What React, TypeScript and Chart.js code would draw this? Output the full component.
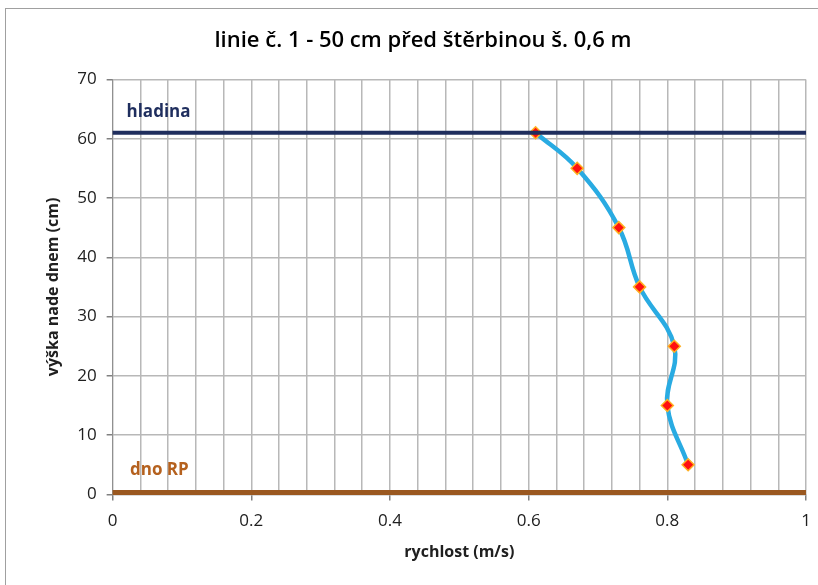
import React, { useEffect, useRef } from "react";
import { Chart, registerables } from "chart.js";
Chart.register(...registerables);

const speeds = [0.61, 0.67, 0.73, 0.76, 0.81, 0.8, 0.83];
const heights = [61, 55, 45, 35, 25, 15, 5];
const waterLevel = 61;
const bottomLevel = 0.3;
const xTickLabels = ["0", "0.2", "0.4", "0.6", "0.8", "1"];
const yTicks = [0, 10, 20, 30, 40, 50, 60, 70];
const titleText = "linie č. 1 - 50 cm před štěrbinou š. 0,6 m";
const xTitle = "rychlost (m/s)";
const yTitle = "výška nade dnem (cm)";
const labelWater = "hladina";
const labelBottom = "dno RP";

const FONT = "'Open Sans', 'Noto Sans', sans-serif";

const isMajor = (v: number) => Math.abs(v * 5 - Math.round(v * 5)) < 1e-6;

const textPlugin = {
  id: "levelText",
  afterDatasetsDraw(chart: any) {
    const { ctx, scales } = chart;
    const xs = scales.x;
    const ys = scales.y;
    ctx.save();
    ctx.font = `bold 17px ${FONT}`;
    ctx.textBaseline = "middle";
    ctx.textAlign = "left";
    ctx.fillStyle = "#1F2E5E";
    ctx.fillText(labelWater, xs.getPixelForValue(0.02), ys.getPixelForValue(64.4));
    ctx.fillStyle = "#B5611E";
    ctx.fillText(labelBottom, xs.getPixelForValue(0.025), ys.getPixelForValue(4.1));
    ctx.restore();
  },
};

export default function App() {
  const ref = useRef<HTMLCanvasElement>(null);
  useEffect(() => {
    const profile = speeds.map((s, i) => ({ x: s, y: heights[i] }));
    const chart = new Chart(ref.current!, {
      type: "scatter",
      data: {
        datasets: [
          {
            data: [
              { x: 0, y: waterLevel },
              { x: 1, y: waterLevel },
            ],
            showLine: true,
            borderColor: "#1F2E5E",
            borderWidth: 4,
            pointRadius: 0,
            clip: false as any,
          },
          {
            data: [
              { x: 0, y: bottomLevel },
              { x: 1, y: bottomLevel },
            ],
            showLine: true,
            borderColor: "#9A5820",
            borderWidth: 5,
            pointRadius: 0,
            clip: false as any,
          },
          {
            data: profile,
            showLine: true,
            borderColor: "#29ABE2",
            borderWidth: 4.5,
            tension: 0.4,
            pointStyle: "rectRot",
            pointRadius: 6,
            pointBackgroundColor: "#FF1010",
            pointBorderColor: "#FFB020",
            pointBorderWidth: 1.5,
          },
        ],
      },
      options: {
        responsive: false,
        animation: false,
        layout: { padding: { left: 40, right: 12, top: 0, bottom: 19 } },
        plugins: {
          legend: { display: false },
          tooltip: { enabled: false },
          title: {
            display: true,
            text: titleText,
            color: "#000000",
            font: { family: FONT, size: 22, weight: "600" as any },
            padding: { top: 28, bottom: 25 },
          },
        },
        scales: {
          x: {
            type: "linear",
            min: 0,
            max: 1,
            afterFit: (axis: any) => {
              axis.paddingRight = 0;
            },
            ticks: {
              stepSize: 0.04,
              autoSkip: false,
              maxRotation: 0,
              color: "#202020",
              font: { family: FONT, size: 17 },
              padding: 11,
              callback: (v: any) => {
                const n = Number(v);
                if (!isMajor(n)) return "";
                return xTickLabels[Math.round(n * 5)];
              },
            },
            grid: {
              color: "#B8B8B8",
              lineWidth: 1.5,
              tickLength: 6,
              tickColor: (c: any) => (isMajor(c.tick.value) ? "#808080" : "rgba(0,0,0,0)"),
            },
            border: { color: "#909090" },
            title: {
              display: true,
              text: xTitle,
              color: "#202020",
              font: { family: FONT, size: 16, weight: "bold" as any },
              padding: { top: 0 },
            },
          },
          y: {
            type: "linear",
            min: 0,
            max: 70,
            afterBuildTicks: (axis: any) => {
              axis.ticks = yTicks.map((v) => ({ value: v }));
            },
            ticks: {
              color: "#202020",
              font: { family: FONT, size: 17 },
              padding: 10,
            },
            grid: {
              color: "#B8B8B8",
              lineWidth: 1.5,
              tickLength: 6,
              tickColor: "#808080",
            },
            border: { color: "#909090" },
            title: {
              display: true,
              text: yTitle,
              color: "#202020",
              font: { family: FONT, size: 16, weight: "bold" as any },
              padding: { bottom: 4 },
            },
          },
        },
      },
      plugins: [textPlugin],
    });
    return () => chart.destroy();
  }, []);
  return (
    <div
      style={{
        position: "fixed",
        left: 0,
        top: 0,
        width: 818,
        height: 585,
        background: "#fff",
      }}
    >
      <div
        style={{
          position: "absolute",
          left: 5,
          top: 8,
          width: 830,
          height: 600,
          borderLeft: "1.5px solid #A0A0A0",
          borderTop: "1.5px solid #A0A0A0",
        }}
      />
      <canvas ref={ref} width={818} height={585} style={{ position: "absolute", left: 0, top: 0 }} />
    </div>
  );
}
